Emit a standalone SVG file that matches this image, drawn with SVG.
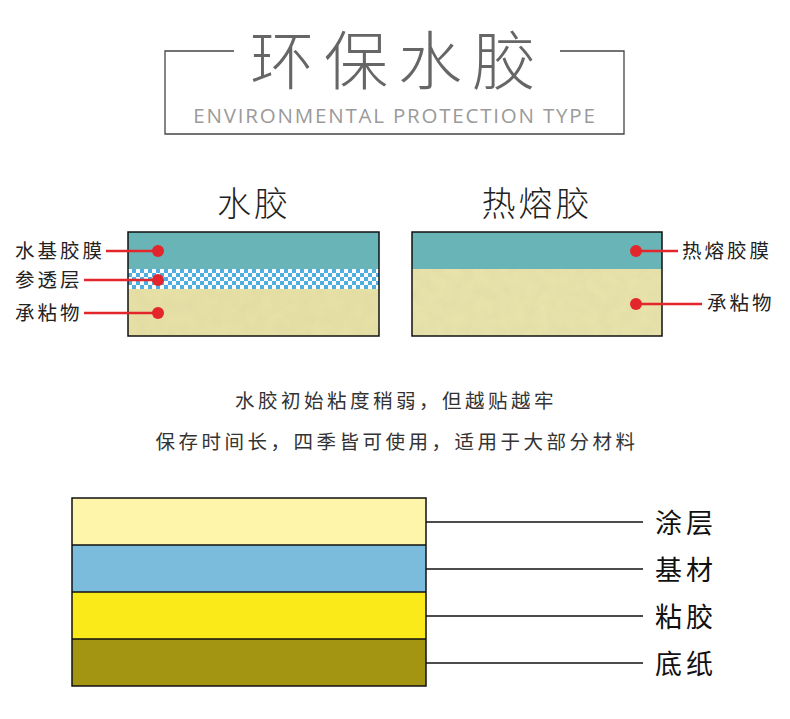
<svg xmlns="http://www.w3.org/2000/svg" width="790" height="719" viewBox="0 0 790 719">
<defs>
<style>
.cjk{font-family:"Noto Sans CJK SC","Noto Sans",sans-serif}
.lt{font-weight:300}
.lab{font-size:19.5px;letter-spacing:3px;fill:#222}
.lay{font-size:27px;letter-spacing:4px;fill:#111}
.red{stroke:#E3262B;stroke-width:2.5}
.dot{fill:#E3262B}
.box{stroke:#111;stroke-width:1.5;fill:none}
.lead{stroke:#111;stroke-width:1.5}
</style>
<pattern id="chk" width="8" height="8" patternUnits="userSpaceOnUse" x="128" y="269">
<rect width="8" height="8" fill="#4FAEDF"/>
<rect x="0" y="0" width="4" height="4" fill="#fff"/>
<rect x="4" y="4" width="4" height="4" fill="#fff"/>
</pattern>
<filter id="grain" x="0" y="0" width="1" height="1">
<feTurbulence type="fractalNoise" baseFrequency="0.08" numOctaves="3" seed="3" result="n"/>
<feColorMatrix in="n" type="matrix" values="0 0 0 0 0.5  0 0 0 0 0.48  0 0 0 0 0.3  0 0 0 0.18 0" result="m"/>
<feComposite in="m" in2="SourceGraphic" operator="in" result="c"/>
<feMerge><feMergeNode in="SourceGraphic"/><feMergeNode in="c"/></feMerge>
</filter>
</defs>
<rect width="790" height="719" fill="#fff"/>

<g id="title">
<path d="M234 51 H165 V134 H624 V51 H560" fill="none" stroke="#444" stroke-width="1.3"/>
<text class="cjk lt" x="250" y="84" font-size="64" letter-spacing="10" fill="#666">环保水胶</text>
<text x="395" y="123" text-anchor="middle" font-family="'Open Sans','Liberation Sans',sans-serif" font-size="20.5" letter-spacing="1.8" fill="#9a9a9a">ENVIRONMENTAL PROTECTION TYPE</text>
</g>

<g id="water-glue">
<text class="cjk lt" x="254" y="216" text-anchor="middle" font-size="34" letter-spacing="3" fill="#222">水胶</text>
<rect x="128" y="232" width="251" height="37" fill="#69B4B6"/>
<rect x="128" y="269" width="251" height="20" fill="url(#chk)"/>
<rect x="128" y="289" width="251" height="47" fill="#E8E2A7" filter="url(#grain)"/>
<rect x="128" y="232" width="251" height="104" class="box"/>
</g>

<g id="hot-melt">
<text class="cjk lt" x="537" y="216" text-anchor="middle" font-size="34" letter-spacing="3" fill="#222">热熔胶</text>
<rect x="412" y="232" width="250" height="37" fill="#69B4B6"/>
<rect x="412" y="269" width="250" height="67" fill="#E9E4AB" filter="url(#grain)"/>
<rect x="412" y="232" width="250" height="104" class="box"/>
</g>

<g id="labels-left">
<text class="cjk lab" x="15" y="258">水基胶膜</text>
<text class="cjk lab" x="15" y="287">参透层</text>
<text class="cjk lab" x="15" y="320">承粘物</text>
</g>
<g id="labels-right">
<text class="cjk lab" x="682" y="258">热熔胶膜</text>
<text class="cjk lab" x="707" y="310">承粘物</text>
</g>

<g id="callouts">
<line class="red" x1="106" y1="251" x2="158" y2="251"/>
<circle class="dot" cx="158" cy="251" r="6"/>
<line class="red" x1="84" y1="280" x2="158" y2="280"/>
<circle class="dot" cx="158" cy="280" r="6"/>
<line class="red" x1="84" y1="313" x2="158" y2="313"/>
<circle class="dot" cx="158" cy="313" r="6"/>
<line class="red" x1="636" y1="251" x2="678" y2="251"/>
<circle class="dot" cx="636" cy="251" r="6"/>
<line class="red" x1="636" y1="304" x2="702" y2="304"/>
<circle class="dot" cx="636" cy="304" r="6"/>
</g>

<g id="description">
<text class="cjk" x="396" y="408" text-anchor="middle" font-size="19.5" letter-spacing="3.5" fill="#333">水胶初始粘度稍弱，但越贴越牢</text>
<text class="cjk" x="397" y="449" text-anchor="middle" font-size="19.5" letter-spacing="3.5" fill="#333">保存时间长，四季皆可使用，适用于大部分材料</text>
</g>

<g id="layers">
<rect x="72" y="498" width="354" height="47" fill="#FFF5AA"/>
<rect x="72" y="545" width="354" height="47" fill="#7BBBDB"/>
<rect x="72" y="592" width="354" height="47" fill="#FBEA1A"/>
<rect x="72" y="639" width="354" height="47" fill="#A39512"/>
<path d="M72 545 H426 M72 592 H426 M72 639 H426" stroke="#111" stroke-width="1.5"/>
<rect x="72" y="498" width="354" height="188" class="box"/>
</g>

<g id="layer-leaders">
<line class="lead" x1="426" y1="522" x2="643" y2="522"/>
<line class="lead" x1="426" y1="569" x2="643" y2="569"/>
<line class="lead" x1="426" y1="616" x2="643" y2="616"/>
<line class="lead" x1="426" y1="663" x2="643" y2="663"/>
</g>

<g id="layer-labels">
<text class="cjk lay" x="655" y="533">涂层</text>
<text class="cjk lay" x="655" y="580">基材</text>
<text class="cjk lay" x="655" y="627">粘胶</text>
<text class="cjk lay" x="655" y="674">底纸</text>
</g>
</svg>
